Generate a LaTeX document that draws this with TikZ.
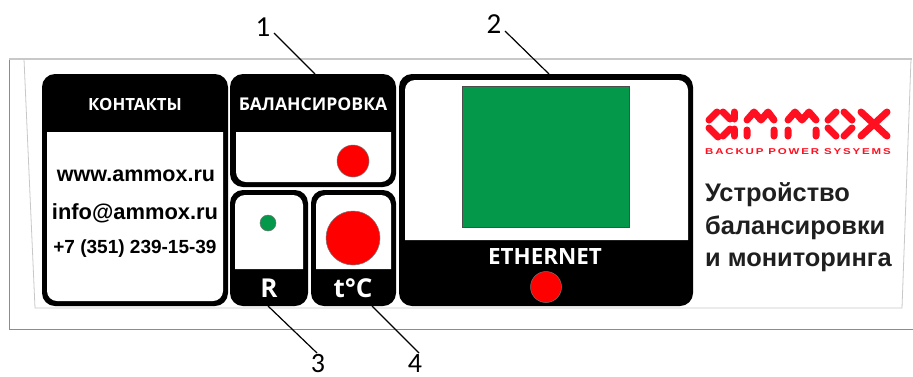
\documentclass[tikz,border=0pt]{standalone}
\usepackage{fontspec}
\usepackage{graphicx}
\setmainfont{Open Sans}
\newfontfamily\arialf{Liberation Sans}
\newfontfamily\callout{Carlito}
\definecolor{grnled}{HTML}{03984A}
\definecolor{redled}{HTML}{FF0000}
\definecolor{framegray}{HTML}{8C8C8C}
\definecolor{bevelgray}{HTML}{C8C8C8}
\definecolor{logored}{HTML}{FF1020}
\tikzset{
  x=1pt,y=-1pt,
  panel/.style={fill=black,draw=none,rounded corners=13pt,inner sep=0pt,outer sep=0pt},
  headtext/.style={text=white,font=\bfseries\fontsize{16.8}{16.8}\selectfont,inner sep=0pt},
  contact/.style={text=black,font=\arialf\bfseries\fontsize{21.5}{21.5}\selectfont,inner sep=0pt},
  titleline/.style={text=black!88,font=\arialf\bfseries\fontsize{25.4}{25.4}\selectfont,anchor=west,inner sep=0pt},
  led/.style={circle,fill=redled,draw=black!55,line width=0.5pt,inner sep=0pt},
  leader/.style={draw=black,line width=1.2pt},
  callnum/.style={font=\callout\fontsize{29}{29}\selectfont,text=black,inner sep=0pt},
  logostroke/.style={draw=logored,line width=7pt,line cap=round,line join=round},
}
\begin{document}
\begin{tikzpicture}
\useasboundingbox (0,0) rectangle (913,376);
\fill[white] (0,0) rectangle (913,376);
% enclosure
\draw[framegray,line width=1pt] (913,329) -- (9,329) -- (9,59);
\draw[bevelgray,line width=1.2pt] (9,59) -- (912,59);
\draw[bevelgray,line width=0.8pt] (24,59) -- (35,308) -- (902,308) -- (911,59);
% panels
\node[panel,minimum width=186pt,minimum height=232pt] (contacts) at (135,190) {};
\fill[white] (47,132) -- (223,132) [rounded corners=10pt] -- (223,301) -- (47,301) [sharp corners] -- cycle;
\node[panel,minimum width=166pt,minimum height=113pt] (balance) at (313,130.5) {};
\fill[white] (236,132) -- (391,132) [rounded corners=10pt] -- (391,182) -- (236,182) [sharp corners] -- cycle;
\node[panel,minimum width=78pt,minimum height=116pt] (rpanel) at (269,248) {};
\fill[white] (235,269) [rounded corners=10pt] -- (235,195) -- (303,195) [sharp corners] -- (303,269) -- cycle;
\node[panel,minimum width=85pt,minimum height=116pt] (tpanel) at (353.5,248) {};
\fill[white] (316,269) [rounded corners=10pt] -- (316,195) -- (391,195) [sharp corners] -- (391,269) -- cycle;
\node[panel,minimum width=294pt,minimum height=232pt] (eth) at (546,190) {};
\fill[white] (405,240) [rounded corners=10pt] -- (405,80) -- (688,80) [sharp corners] -- (688,240) -- cycle;
% indicators
\node[draw=black!70,fill=grnled,line width=0.5pt,minimum width=167pt,minimum height=141pt,inner sep=0pt] (screen) at (545.5,156.5) {};
\node[led,minimum size=32pt] (balled) at (353,161) {};
\node[circle,fill=grnled,draw=black!55,line width=0.5pt,inner sep=0pt,minimum size=16pt] (rled) at (268,223) {};
\node[led,minimum size=54pt] (tled) at (353,238) {};
\node[led,minimum size=31pt] (ethled) at (546,287) {};
% panel text
\node[headtext] (tcontacts) at (135,104) {КОНТАКТЫ};
\node[headtext,font=\bfseries\fontsize{17.6}{17.6}\selectfont] (tbalance) at (313,104) {БАЛАНСИРОВКА};
\node[headtext,font=\bfseries\fontsize{26}{26}\selectfont] (tr) at (269,288) {R};
\node[headtext,font=\bfseries\fontsize{26}{26}\selectfont] (tt) at (353,288) {t°C};
\node[headtext,font=\bfseries\fontsize{22.4}{22.4}\selectfont] (teth) at (545,256) {ETHERNET};
\node[contact] (web) at (136,176) {www.ammox.ru};
\node[contact,font=\arialf\bfseries\fontsize{21.9}{21.9}\selectfont] (mail) at (135,213.5) {info@ammox.ru};
\node[contact,font=\arialf\bfseries\fontsize{19}{19}\selectfont] (phone) at (135,249) {+7 (351) 239-15-39};
% logo
\begin{scope}[logostroke]
  % a
  \draw (709,120) -- (717,112) (709,128) -- (718,137);
  \draw (723,112) -- (730,119) (723,136) -- (730,129);
  \draw (734,112) -- (734,119) (734,136) -- (734,129);
  % m 1
  \draw (747,136) -- (747,130) (747,120) -- (754,112) -- (761,120) -- (768,112) -- (774,120) (774,130) -- (774,136);
  % m 2
  \draw (788,136) -- (788,130) (788,120) -- (795,112) -- (802,120) -- (809,112) -- (816,120) (816,130) -- (816,136);
  % o
  \draw (828,120) -- (836,112) (844,112) -- (852,120) (852,128) -- (844,136) (836,136) -- (828,128);
  % x
  \draw (861,112) -- (887,136) (887,112) -- (861,136);
\end{scope}
\node[text=logored,inner sep=0pt,anchor=west,font=\arialf\bfseries\fontsize{8.5}{8.5}\selectfont] (slogan) at (705,151.5) {\scalebox{1.35}[1]{\addfontfeature{LetterSpace=16}BACKUP POWER SYSYEMS}};
\node[titleline] (l1) at (705,195) {Устройство};
\node[titleline] (l2) at (705,228) {балансировки};
\node[titleline] (l3) at (705,262) {и мониторинга};
% callouts
\node[callnum] (n1) at (263,27) {1};
\node[callnum] (n2) at (494,24) {2};
\node[callnum,font=\callout\fontsize{28}{28}\selectfont] (n3) at (318,364) {3};
\node[callnum,font=\callout\fontsize{28}{28}\selectfont] (n4) at (415,364) {4};
\coordinate (e1) at (274,33);
\coordinate (e2) at (505,31);
\coordinate (e3) at (317,353);
\coordinate (e4) at (419,353);
\coordinate (p1) at (315,74);
\coordinate (p2) at (549,74);
\coordinate (p3) at (268,306);
\coordinate (p4) at (372,306);
\draw[leader] (e1) -- (p1);
\draw[leader] (e2) -- (p2);
\draw[leader] (e3) -- (p3);
\draw[leader] (e4) -- (p4);
\end{tikzpicture}
\end{document}
